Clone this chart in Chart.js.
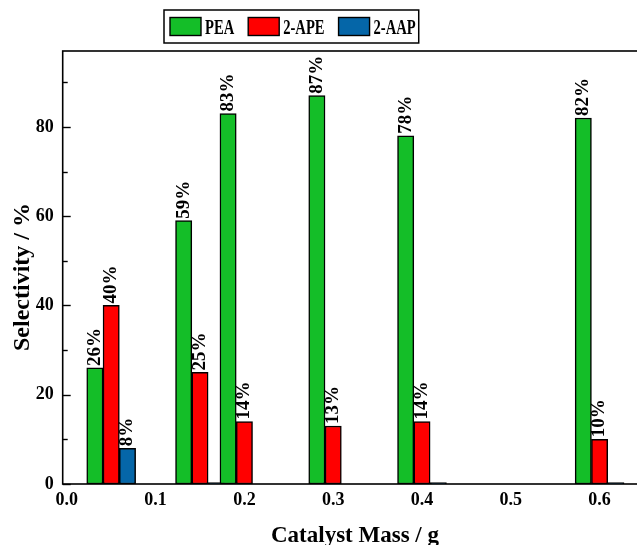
<!DOCTYPE html>
<html>
<head>
<meta charset="utf-8">
<script src="https://cdn.jsdelivr.net/npm/chart.js@4.4.1/dist/chart.umd.min.js"></script>
<style>
  html, body { margin: 0; padding: 0; background: #fff; overflow: hidden; }
  #wrap { width: 647px; height: 545px; }
</style>
</head>
<body>
<div id="wrap"><canvas id="c" width="647" height="545"></canvas></div>
<script>
// Catalyst loading (g) and product selectivity (%)
const catalystMass = [0.05, 0.15, 0.2, 0.3, 0.4, 0.6];
const seriesNames = ['PEA', '2-APE', '2-AAP'];
const peaSelectivity = [26, 59, 83, 87, 78, 82];
const apeSelectivity = [40, 25, 14, 13, 14, 10];
const aapSelectivity = [8, 0.3, null, null, 0.3, 0.3];
const seriesColors = ['#14BE28', '#FF0000', '#0566A8'];
const xTickValues = [0, 0.1, 0.2, 0.3, 0.4, 0.5, 0.6];
const yTickValues = [0, 10, 20, 30, 40, 50, 60, 70, 80, 90];
const yLabelStep = 20;

const SERIF = '"Liberation Serif", "Times New Roman", serif';

const seriesValues = [peaSelectivity, apeSelectivity, aapSelectivity];
const datasets = seriesValues.map((vals, i) => ({
  label: seriesNames[i],
  data: catalystMass.map((m, j) => ({ x: m, y: vals[j] })),
  backgroundColor: seriesColors[i],
  borderColor: '#000',
  borderWidth: 1.5,
  borderSkipped: false,
  barThickness: 16.3
}));

// Box frame, inward y ticks, value labels, axis titles and boxed legend
const decorations = {
  id: 'decorations',
  afterDatasetsDraw(chart) {
    const { ctx, chartArea: a, scales: { y } } = chart;
    ctx.save();

    // value labels above bars, rotated
    ctx.fillStyle = '#000';
    ctx.font = 'bold 19px ' + SERIF;
    ctx.textAlign = 'left';
    ctx.textBaseline = 'middle';
    chart.data.datasets.forEach((ds, di) => {
      const meta = chart.getDatasetMeta(di);
      meta.data.forEach((el, j) => {
        const v = ds.data[j].y;
        if (v == null || v < 1) return;
        ctx.save();
        ctx.translate(el.x, el.y - 2);
        ctx.rotate(-Math.PI / 2);
        ctx.fillText(Math.round(v) + '%', 0, 0);
        ctx.restore();
      });
    });

    // frame
    ctx.strokeStyle = '#000';
    ctx.lineWidth = 1.6;
    ctx.strokeRect(a.left, a.top, a.right - a.left, a.bottom - a.top);

    // inward ticks on the y axis
    ctx.lineWidth = 1.4;
    y.ticks.forEach(t => {
      const py = Math.round(y.getPixelForValue(t.value)) + 0.5;
      const len = t.value % yLabelStep === 0 ? 8 : 5;
      ctx.beginPath();
      ctx.moveTo(a.left, py);
      ctx.lineTo(a.left + len, py);
      ctx.stroke();
    });

    // axis titles
    ctx.fillStyle = '#000';
    ctx.font = 'bold 23px ' + SERIF;
    ctx.textAlign = 'center';
    ctx.textBaseline = 'alphabetic';
    ctx.fillText('Catalyst Mass / g', 355, 542);
    ctx.save();
    ctx.translate(28.5, 277);
    ctx.rotate(-Math.PI / 2);
    ctx.font = 'bold 24px ' + SERIF;
    ctx.fillText('Selectivity / %', 0, 0);
    ctx.restore();

    // legend
    const lg = { left: 164, top: 10, height: 33, sw: 31, sh: 18, pad: 6, gap: 4, itemGap: 14, squeeze: 0.73 };
    ctx.font = 'bold 20px ' + SERIF;
    ctx.textAlign = 'left';
    let x = lg.left + lg.pad;
    const items = chart.data.datasets.map(ds => {
      const w = ctx.measureText(ds.label).width * lg.squeeze;
      const it = { label: ds.label, color: ds.backgroundColor, x, w };
      x += lg.sw + lg.gap + w + lg.itemGap;
      return it;
    });
    const right = x - lg.itemGap + 3;
    ctx.lineWidth = 1.5;
    ctx.strokeRect(lg.left, lg.top, right - lg.left, lg.height);
    items.forEach(it => {
      const sy = lg.top + (lg.height - lg.sh) / 2;
      ctx.fillStyle = it.color;
      ctx.fillRect(it.x, sy, lg.sw, lg.sh);
      ctx.lineWidth = 1.4;
      ctx.strokeStyle = '#000';
      ctx.strokeRect(it.x, sy, lg.sw, lg.sh);
      ctx.fillStyle = '#000';
      ctx.save();
      ctx.translate(it.x + lg.sw + lg.gap, lg.top + 23.5);
      ctx.scale(lg.squeeze, 1);
      ctx.fillText(it.label, 0, 0);
      ctx.restore();
    });

    ctx.restore();
  }
};

new Chart(document.getElementById('c'), {
  type: 'bar',
  data: { datasets },
  options: {
    responsive: false,
    animation: false,
    layout: { padding: { top: 51, right: 0, bottom: 0, left: 0 } },
    plugins: { legend: { display: false }, tooltip: { enabled: false } },
    scales: {
      x: {
        type: 'linear',
        offset: false,
        min: -0.0046,
        max: 0.6534,
        afterBuildTicks: s => { s.ticks = xTickValues.map(v => ({ value: v })); },
        afterFit: s => { s.height = 61; },
        grid: { display: false, drawTicks: false, offset: false },
        border: { display: false },
        ticks: {
          callback: v => Number(v).toFixed(1),
          font: { family: SERIF, weight: 'bold', size: 18 },
          color: '#000',
          padding: 6,
          maxRotation: 0,
          autoSkip: false
        }
      },
      y: {
        min: 0,
        max: 97,
        afterBuildTicks: s => { s.ticks = yTickValues.map(v => ({ value: v })); },
        afterFit: s => { s.width = 62.7; },
        grid: { display: false, drawTicks: false },
        border: { display: false },
        ticks: {
          callback: v => (v % yLabelStep === 0 ? String(v) : ''),
          font: { family: SERIF, weight: 'bold', size: 18 },
          color: '#000',
          padding: 9,
          autoSkip: false
        }
      }
    }
  },
  plugins: [decorations]
});
</script>
</body>
</html>
